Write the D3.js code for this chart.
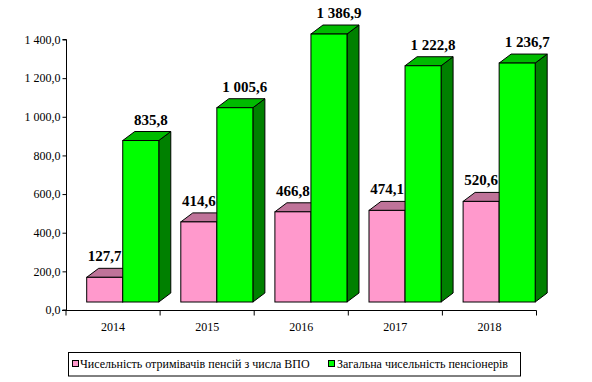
<!DOCTYPE html>
<html><head><meta charset="utf-8">
<script src="https://cdn.jsdelivr.net/npm/d3@7"></script>
<style>body{margin:0;background:#fff}svg{display:block}svg text{font-family:"Liberation Serif","Times New Roman","DejaVu Serif",serif !important;fill:#000}</style>
</head><body>
<svg id="c" width="592" height="382"></svg>
<script>
const categories = ["2014","2015","2016","2017","2018"];
const seriesNames = ["Чисельність отримівачів пенсій з числа ВПО","Загальна чисельність пенсіонерів"];
const vpo = [127.7, 414.6, 466.8, 474.1, 520.6];
const total = [835.8, 1005.6, 1386.9, 1222.8, 1236.7];
const valueLabelsVpo = ["127,7","414,6","466,8","474,1","520,6"];
const valueLabelsTotal = ["835,8","1 005,6","1 386,9","1 222,8","1 236,7"];
const yTicks = [0,200,400,600,800,1000,1200,1400];
const yTickLabels = ["0,0","200,0","400,0","600,0","800,0","1 000,0","1 200,0","1 400,0"];

const svg = d3.select("#c");
const x = d3.scaleBand().domain(categories).range([66, 536.5]).paddingInner(0).paddingOuter(0);
const y = d3.scaleLinear().domain([0,1400]).range([310, 39.5]);
const floorShift = 8, dx = 12, dy = 9;
const bw = x.bandwidth();
const barW = bw*0.383, off = bw*0.22;

const colors = [
  {front:"#FF99CC", top:"#BF7399", side:"#99557A"},
  {front:"#00FF00", top:"#00BB00", side:"#008000"}
];
const series = [vpo,total];
const labels = [valueLabelsVpo, valueLabelsTotal];
const labelDx = [0, 10];

const g = svg.append("g");
categories.forEach((c,i)=>{
  series.forEach((s,k)=>{
    const x0 = x(c)+off+k*barW, x1 = x0+barW;
    const yb = y(0)-floorShift, yt = y(s[i])-floorShift;
    const col = colors[k];
    g.append("path").attr("d",`M${x1},${yb}L${x1+dx},${yb-dy}L${x1+dx},${yt-dy}L${x1},${yt}Z`)
      .attr("fill",col.side).attr("stroke","#000").attr("stroke-width",1).attr("stroke-linejoin","round");
    g.append("path").attr("d",`M${x0},${yt}L${x0+dx},${yt-dy}L${x1+dx},${yt-dy}L${x1},${yt}Z`)
      .attr("fill",col.top).attr("stroke","#000").attr("stroke-width",1).attr("stroke-linejoin","round");
    g.append("rect").attr("x",x0).attr("y",yt).attr("width",barW).attr("height",yb-yt)
      .attr("fill",col.front).attr("stroke","#000").attr("stroke-width",1);
  });
});
categories.forEach((c,i)=>{
  series.forEach((s,k)=>{
    const x0 = x(c)+off+k*barW;
    g.append("text").attr("x",x0+barW/2+labelDx[k]).attr("y",y(s[i])-floorShift-dy-7)
      .attr("text-anchor","middle")
      .style("font-weight","bold").style("font-size","15px").text(labels[k][i]);
  });
});

// Y axis
const yAxis = d3.axisLeft(y).tickValues(yTicks).tickSize(4).tickPadding(2)
  .tickFormat((d,i)=>yTickLabels[i]);
const ya = svg.append("g").attr("transform","translate(66.5,0)").call(yAxis);
ya.select(".domain").attr("d",`M-4,${y(1400)}H0V${y(0)}H-4`).attr("stroke","#000");
ya.selectAll("text").style("font-size","12px");
ya.selectAll("line").attr("stroke","#000");

// X axis
const xa = svg.append("g").attr("transform",`translate(0,${y(0)+0.5})`);
xa.append("line").attr("x1",62).attr("x2",536.5).attr("y1",0).attr("y2",0).attr("stroke","#000");
const xTickPos = [66].concat(categories.map(c=>x(c)+bw));
xa.selectAll("line.t").data(xTickPos).enter().append("line").attr("class","t")
  .attr("x1",d=>d).attr("x2",d=>d).attr("y1",0).attr("y2",5).attr("stroke","#000");
xa.selectAll("text").data(categories).enter().append("text")
  .attr("x",d=>x(d)+bw/2).attr("y",20).attr("text-anchor","middle")
  .style("font-size","12px").text(d=>d);

// Legend
const lg = svg.append("g");
lg.append("rect").attr("x",68.5).attr("y",352.5).attr("width",452).attr("height",23.5)
  .attr("fill","#fff").attr("stroke","#000");
const legItems = [{x:72.5, tx:80},{x:328.5, tx:337}];
seriesNames.forEach((n,k)=>{
  lg.append("rect").attr("x",legItems[k].x).attr("y",360.5).attr("width",6).attr("height",6)
    .attr("fill",colors[k].front).attr("stroke","#000");
  lg.append("text").attr("x",legItems[k].tx).attr("y",368)
    .style("font-size","12px").text(n);
});
</script>
</body></html>
